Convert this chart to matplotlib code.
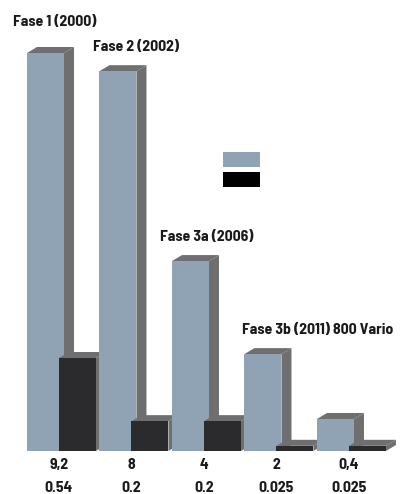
import numpy as np
import matplotlib
matplotlib.use("Agg")
import matplotlib.pyplot as plt
from matplotlib.patches import Polygon, Patch

plt.rcParams['font.family'] = ['Barlow Semi Condensed', 'Asap Condensed', 'DejaVu Sans']
plt.rcParams['font.stretch'] = 'semi-condensed'

# bar heights (first series scaled so that Fase 1 = 9.2)
phases = ["Fase 1 (2000)", "Fase 2 (2002)", "Fase 3a (2006)",
          "Fase 3b (2011) 800 Vario", ""]
nox_labels = ["9,2", "8", "4", "2", "0,4"]
pm_labels = ["0.54", "0.2", "0.2", "0.025", "0.025"]
nox_height = [9.2, 8.78, 4.39, 2.24, 0.74]
pm_height = [2.15, 0.69, 0.69, 0.12, 0.12]

# label offsets from the bar's top-left corner, pixels
label_dx = [-14, -6, -12, -2, 0]
label_dy = [31, 24, 24, 24, 24]

blue = "#8fa3b4"
side = "#6f6f70"
dark = "#2b2b2d"
txt = "#1a1a1a"
fs = 11.3

W, H = 401, 494
fig = plt.figure(figsize=(W / 100, H / 100), dpi=100)
ax = fig.add_axes([0, 43 / H, 1, 451 / H])
ax.set_xlim(-61 / 72.5, (W - 61) / 72.5)
ax.set_ylim(0, 451 / 43.26)
ax.axis("off")

x = np.arange(len(nox_height))
bw = 0.51
b1 = ax.bar(x - 0.469, nox_height, width=bw, align="edge", color=blue, linewidth=0)
b2 = ax.bar(x - 0.028, pm_height, width=bw, align="edge", color=dark, linewidth=0)

# depth of the fake 3d boxes, pixels -> data units
fig.canvas.draw()
p0 = ax.transData.transform((0, 0))
p1 = ax.transData.transform((1, 1))
ddx = 10 / (p1[0] - p0[0])
ddy = 6 / (p1[1] - p0[1])


def box(rect, z):
    xl = rect.get_x()
    xr = xl + rect.get_width()
    h = rect.get_height()
    top = Polygon([(xl, h), (xr, h), (xr + ddx, h + ddy), (xl + ddx, h + ddy)],
                  closed=True, color=side, linewidth=0, zorder=z)
    sd = Polygon([(xr, 0), (xr, h), (xr + ddx, h + ddy), (xr + ddx, ddy)],
                 closed=True, color=side, linewidth=0, zorder=z)
    ax.add_patch(top)
    ax.add_patch(sd)
    rect.set_zorder(z + 0.5)


for i in range(len(x)):
    box(b1[i], 2 + 2 * i)
    box(b2[i], 3 + 2 * i)
    if phases[i]:
        ax.annotate(phases[i], xy=(b1[i].get_x(), nox_height[i]),
                    xytext=(label_dx[i], label_dy[i]), textcoords="offset pixels",
                    ha="left", va="center", fontsize=fs, fontweight="bold",
                    color=txt)
    ax.annotate(nox_labels[i], xy=(x[i] - 0.03, 0), xytext=(0, -14),
                textcoords="offset pixels", ha="center", va="center",
                fontsize=fs, fontweight="bold", color=txt, annotation_clip=False)
    ax.annotate(pm_labels[i], xy=(x[i] - 0.03, 0), xytext=(0, -37),
                textcoords="offset pixels", ha="center", va="center",
                fontsize=fs, fontweight="bold", color=txt, annotation_clip=False)

# legend boxes, no text
handles = [Patch(facecolor=blue, edgecolor="none"), Patch(facecolor="#000000", edgecolor="none")]
ax.legend(handles, ["", ""], loc="upper left", bbox_to_anchor=(223 / W, 1 - 152 / H),
          bbox_transform=fig.transFigure, frameon=False, borderpad=0, borderaxespad=0,
          fontsize=10, handlelength=37 / 13.9, handleheight=18 / 13.9,
          labelspacing=5 / 13.9, handletextpad=0)

fig.savefig("out.png", dpi=100)
